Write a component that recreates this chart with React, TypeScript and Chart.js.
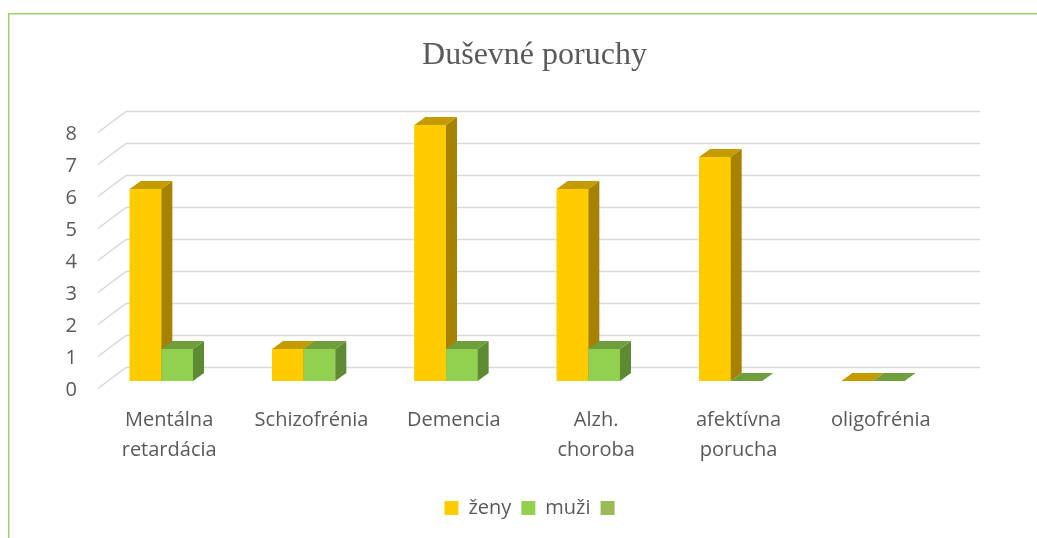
import React, { useEffect, useRef } from "react";
import { Chart, registerables } from "chart.js";

Chart.register(...registerables);

// ---- data ----
const categories: (string | string[])[] = [
  ["Mentálna", "retardácia"],
  "Schizofrénia",
  "Demencia",
  ["Alzh.", "choroba"],
  ["afektívna", "porucha"],
  "oligofrénia",
];
const seriesNames = ["ženy", "muži", ""];
const zenyValues = [6, 1, 8, 6, 7, 0];
const muziValues = [1, 1, 1, 1, 0, 0];
const thirdValues: (number | null)[] = [null, null, null, null, null, null];
const yMin = 0;
const yMax = 8;
const yStep = 1;

// ---- styles ----
const FRONT = ["#FFCC00", "#92D050", "#9BBB59"];
const TOP = ["#C49C00", "#6F9E3D", "#7A9446"];
const SIDE = ["#A68200", "#5F8A34", "#6A8139"];
const TEXT = "#595959";
const GRID = "#D9D9D9";
const FONT = "'Open Sans', 'Noto Sans', sans-serif";

const G = {
  frontDx: -8,
  frontDy: 7.5,
  backDx: 20,
  backDy: -13.5,
  barDx: 11,
  barDy: -8,
};

const threeD = {
  id: "threeD",
  beforeDraw(chart: any) {
    const ctx = chart.ctx;
    ctx.save();
    ctx.fillStyle = "#ffffff";
    ctx.fillRect(0, 0, chart.width, chart.height);
    ctx.strokeStyle = "#9CD461";
    ctx.lineWidth = 1.5;
    ctx.beginPath();
    ctx.moveTo(8.75, chart.height + 2);
    ctx.lineTo(8.75, 13.75);
    ctx.lineTo(chart.width + 2, 13.75);
    ctx.stroke();
    ctx.restore();
  },
  beforeDatasetsDraw(chart: any) {
    const ctx = chart.ctx;
    const y = chart.scales.y;
    const area = chart.chartArea;
    ctx.save();
    ctx.strokeStyle = GRID;
    ctx.lineWidth = 1.5;
    y.ticks.forEach((t: any) => {
      const py = y.getPixelForValue(t.value);
      ctx.beginPath();
      ctx.moveTo(area.left + G.frontDx, py + G.frontDy);
      ctx.lineTo(area.left + G.backDx, py + G.backDy);
      ctx.lineTo(area.right + G.backDx, py + G.backDy);
      ctx.stroke();
    });
    ctx.restore();
  },
  afterDatasetsDraw(chart: any) {
    const ctx = chart.ctx;
    ctx.save();
    chart.data.datasets.forEach((ds: any, di: number) => {
      const meta = chart.getDatasetMeta(di);
      meta.data.forEach((bar: any, i: number) => {
        const v = ds.data[i];
        if (v === null || v === undefined) return;
        const { x, y, base, width } = bar.getProps(["x", "y", "base", "width"], true);
        const l = x - width / 2;
        const r = x + width / 2;
        // front
        ctx.fillStyle = FRONT[di];
        ctx.fillRect(l, y, width, base - y);
        // side
        ctx.fillStyle = SIDE[di];
        ctx.beginPath();
        ctx.moveTo(r, y);
        ctx.lineTo(r + G.barDx, y + G.barDy);
        ctx.lineTo(r + G.barDx, base + G.barDy);
        ctx.lineTo(r, base);
        ctx.closePath();
        ctx.fill();
        // top
        ctx.fillStyle = TOP[di];
        ctx.beginPath();
        ctx.moveTo(l, y);
        ctx.lineTo(l + G.barDx, y + G.barDy);
        ctx.lineTo(r + G.barDx, y + G.barDy);
        ctx.lineTo(r, y);
        ctx.closePath();
        ctx.fill();
      });
    });
    ctx.restore();
  },
};

export default function App() {
  const ref = useRef<HTMLCanvasElement | null>(null);
  useEffect(() => {
    if (!ref.current) return;
    const chart = new Chart(ref.current, {
      type: "bar",
      data: {
        labels: categories,
        datasets: [
          { label: seriesNames[0], data: zenyValues, backgroundColor: FRONT[0], borderWidth: 0 },
          { label: seriesNames[1], data: muziValues, backgroundColor: FRONT[1], borderWidth: 0 },
          { label: seriesNames[2], data: thirdValues, backgroundColor: FRONT[2], borderWidth: 0 },
        ],
      },
      options: {
        responsive: false,
        animation: false,
        devicePixelRatio: 1,
        layout: { padding: { top: 0, left: 32, right: 0, bottom: 10 } },
        datasets: { bar: { barPercentage: 1, categoryPercentage: 0.667 } },
        plugins: {
          title: {
            display: true,
            text: "Duševné poruchy",
            color: TEXT,
            font: { family: "'Liberation Serif', 'Times New Roman', serif", size: 32, weight: "normal", lineHeight: 1.2 },
            padding: { top: 36, bottom: 50.6 },
          },
          legend: {
            display: true,
            position: "bottom",
            labels: {
              color: TEXT,
              boxWidth: 14,
              boxHeight: 14,
              padding: 10,
              font: { family: FONT, size: 20 },
            },
          },
          tooltip: { enabled: false },
        },
        scales: {
          x: {
            grid: { display: false, drawTicks: false, tickLength: 0 },
            border: { display: false },
            ticks: {
              color: TEXT,
              padding: 24,
              labelOffset: -8,
              maxRotation: 0,
              autoSkip: false,
              font: { family: FONT, size: 20, lineHeight: 1.5 },
            },
            afterFit: (s: any) => {
              s.height = 107;
            },
          },
          y: {
            min: yMin,
            max: yMax,
            grid: { display: false, drawTicks: false, tickLength: 0 },
            border: { display: false },
            ticks: {
              stepSize: yStep,
              color: TEXT,
              padding: 29,
              labelOffset: 9,
              font: { family: FONT, size: 20 },
            },
            afterFit: (s: any) => {
              s.width = 74;
            },
          },
          y2: {
            position: "right",
            display: true,
            grid: { display: false, drawTicks: false, tickLength: 0 },
            border: { display: false },
            ticks: { display: false },
            afterFit: (s: any) => {
              s.width = 77;
            },
          },
        },
      },
      plugins: [threeD],
    } as any);
    return () => chart.destroy();
  }, []);
  return (
    <div style={{ position: "absolute", left: 0, top: 0, width: 1037, height: 538 }}>
      <canvas ref={ref} width={1037} height={538} style={{ display: "block", width: 1037, height: 538 }} />
    </div>
  );
}
